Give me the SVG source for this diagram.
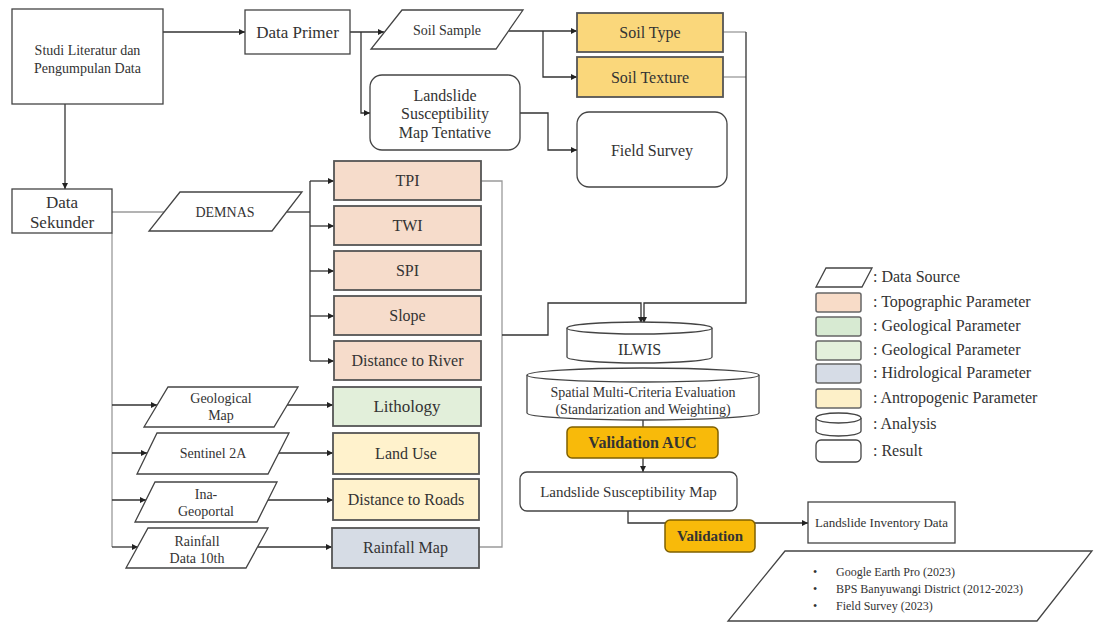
<svg xmlns="http://www.w3.org/2000/svg" width="1094" height="623" viewBox="0 0 1094 623">
<defs>
<marker id="ah" viewBox="0 0 10 10" refX="10" refY="5" markerWidth="6" markerHeight="6" orient="auto" markerUnits="userSpaceOnUse">
<path d="M0,0 L10,5 L0,10 z" fill="#222"/>
</marker>
<style>
text{font-family:"Liberation Serif","Times New Roman",serif;fill:#333;text-anchor:middle}
.box{fill:#fff;stroke:#444;stroke-width:1.3}
.ds{fill:#fff;stroke:#444;stroke-width:1.3}
.topo{fill:#F6DCCB;stroke:#555;stroke-width:1.8}
.geo{fill:#E2EFDA;stroke:#555;stroke-width:1.8}
.antro{fill:#FFF2CC;stroke:#555;stroke-width:1.8}
.hidro{fill:#D6DCE5;stroke:#555;stroke-width:1.8}
.soil{fill:#FAD77B;stroke:#555;stroke-width:1.8}
.val{fill:#F8BA0A;stroke:#7F6000;stroke-width:1.5}
.c{fill:none;stroke:#333;stroke-width:1.3}
.g{fill:none;stroke:#9a9a9a;stroke-width:1.3}
.a{marker-end:url(#ah)}
.t12{font-size:12px}
.t13{font-size:13px}
.t14{font-size:14px}
.t15{font-size:15px}
.t16{font-size:16px}
.t17{font-size:17px}
.lg{font-size:16px;text-anchor:start}
.b{font-weight:bold}
</style>
</defs>
<rect width="1094" height="623" fill="#fff"/>

<g id="connectors">
<path class="c a" d="M163,32 H245"/>
<path class="c a" d="M65,104 V189"/>
<path class="c a" d="M350,32 H384"/>
<path class="c a" d="M361,32 V113 H370"/>
<path class="c a" d="M509,31 H577"/>
<path class="c a" d="M543,31 V77 H577"/>
<path class="c a" d="M520,113 H548 V150 H577"/>
<path class="g" d="M723,32 H746"/>
<path class="g" d="M723,77 H746"/>
<path class="c a" d="M746,32 V303 H644 V323"/>
<path class="g" d="M112,212 H164"/>
<path class="c" d="M287,212 H310"/>
<path class="c" d="M310,181 V361"/>
<path class="c a" d="M310,181 H334"/>
<path class="c a" d="M310,226 H334"/>
<path class="c a" d="M310,271 H334"/>
<path class="c a" d="M310,316 H334"/>
<path class="c a" d="M310,361 H334"/>
<path class="g" d="M481,181 H502 V547 H479"/>
<path class="c a" d="M502,335 H548 V303 H641 V323"/>
<path class="g" d="M112,233 V547"/>
<path class="c a" d="M112,405 H157"/>
<path class="c a" d="M112,453 H147"/>
<path class="c a" d="M112,500 H146"/>
<path class="c a" d="M112,547 H138"/>
<path class="c a" d="M287,405 H333"/>
<path class="c a" d="M279,453 H333"/>
<path class="c a" d="M268,500 H333"/>
<path class="c a" d="M258,547 H332"/>
<path class="c" d="M643,420 V427"/>
<path class="c a" d="M643,458 V472"/>
<path class="c a" d="M628,511 V523 H808"/>
</g>

<g id="studi">
<rect class="box" x="12" y="9" width="151" height="95"/>
<text class="t14" x="87.5" y="55">Studi Literatur dan</text>
<text class="t14" x="87.5" y="73">Pengumpulan Data</text>
</g>
<g id="data-primer">
<rect class="box" x="245" y="10" width="105" height="44"/>
<text class="t17" x="297.5" y="38">Data Primer</text>
</g>
<g id="soil-sample">
<polygon class="ds" points="402,10 523,10 496,49 371,49"/>
<text class="t14" x="447" y="35">Soil Sample</text>
</g>
<g id="soil-type">
<rect class="soil" x="577" y="13" width="146" height="39"/>
<text class="t16" x="650" y="38">Soil Type</text>
</g>
<g id="soil-texture">
<rect class="soil" x="577" y="57" width="146" height="40"/>
<text class="t16" x="650" y="83">Soil Texture</text>
</g>
<g id="lsm-tentative">
<rect class="box" x="370" y="75" width="150" height="75" rx="12"/>
<text class="t16" x="445" y="101">Landslide</text>
<text class="t16" x="445" y="119">Susceptibility</text>
<text class="t16" x="445" y="138">Map Tentative</text>
</g>
<g id="field-survey">
<rect class="box" x="577" y="112" width="150" height="75" rx="12"/>
<text class="t16" x="652" y="156">Field Survey</text>
</g>
<g id="data-sekunder">
<rect class="box" x="12" y="189" width="100" height="44"/>
<text class="t17" x="62" y="208">Data</text>
<text class="t17" x="62" y="228">Sekunder</text>
</g>
<g id="demnas">
<polygon class="ds" points="180,192 302,192 272,231 149,231"/>
<text class="t14" x="225" y="217">DEMNAS</text>
</g>
<g id="tpi">
<rect class="topo" x="334" y="161" width="147" height="39"/>
<text class="t16" x="407.5" y="186">TPI</text>
</g>
<g id="twi">
<rect class="topo" x="334" y="206" width="147" height="39"/>
<text class="t16" x="407.5" y="231">TWI</text>
</g>
<g id="spi">
<rect class="topo" x="334" y="251" width="147" height="39"/>
<text class="t16" x="407.5" y="276">SPI</text>
</g>
<g id="slope">
<rect class="topo" x="334" y="296" width="147" height="39"/>
<text class="t16" x="407.5" y="321">Slope</text>
</g>
<g id="dist-river">
<rect class="topo" x="334" y="341" width="147" height="39"/>
<text class="t16" x="407.5" y="366">Distance to River</text>
</g>
<g id="geological-map">
<polygon class="ds" points="168,387 298,387 274,427 144,427"/>
<text class="t14" x="221" y="403">Geological</text>
<text class="t14" x="221" y="420">Map</text>
</g>
<g id="lithology">
<rect class="geo" x="333" y="387" width="148" height="39"/>
<text class="t17" x="407" y="412">Lithology</text>
</g>
<g id="sentinel">
<polygon class="ds" points="157,433 289,433 268,474 137,474"/>
<text class="t14" x="213" y="458">Sentinel 2A</text>
</g>
<g id="land-use">
<rect class="antro" x="333" y="433" width="146" height="41"/>
<text class="t16" x="406" y="459">Land Use</text>
</g>
<g id="ina-geoportal">
<polygon class="ds" points="155,482 277,482 257,522 135,522"/>
<text class="t14" x="206" y="499">Ina-</text>
<text class="t14" x="206" y="516">Geoportal</text>
</g>
<g id="dist-roads">
<rect class="antro" x="333" y="479" width="146" height="41"/>
<text class="t16" x="406" y="505">Distance to Roads</text>
</g>
<g id="rainfall-data">
<polygon class="ds" points="148,528 268,528 246,568 126,568"/>
<text class="t14" x="197" y="546">Rainfall</text>
<text class="t14" x="197" y="563">Data 10th</text>
</g>
<g id="rainfall-map">
<rect class="hidro" x="332" y="528" width="147" height="40"/>
<text class="t16" x="405.5" y="553">Rainfall Map</text>
</g>
<g id="ilwis">
<path class="box" d="M567,328 V357 A72.5,6 0 0 0 712,357 V328"/>
<ellipse class="box" cx="639.5" cy="328" rx="72.5" ry="6"/>
<text class="t16" x="639.5" y="355">ILWIS</text>
</g>
<g id="smce">
<path class="box" d="M527,375 V413 A116,7 0 0 0 759,413 V375"/>
<ellipse class="box" cx="643" cy="375" rx="116" ry="7"/>
<text class="t14" x="643" y="397">Spatial Multi-Criteria Evaluation</text>
<text class="t14" x="643" y="414">(Standarization and Weighting)</text>
</g>
<g id="validation-auc">
<rect class="val" x="567" y="427" width="151" height="31" rx="5"/>
<text class="t16 b" x="642.5" y="448">Validation AUC</text>
</g>
<g id="lsm">
<rect class="box" x="520" y="472" width="217" height="39" rx="7"/>
<text class="t15" x="628.5" y="497">Landslide Susceptibility Map</text>
</g>
<g id="validation">
<rect class="val" x="665" y="520" width="90" height="32" rx="5"/>
<text class="t15 b" x="710" y="541">Validation</text>
</g>
<g id="inventory">
<rect class="box" x="808" y="502" width="147" height="41"/>
<text class="t13" x="881.5" y="527">Landslide Inventory Data</text>
</g>
<g id="sources">
<polygon class="ds" points="785,551 1092,551 1037,621 728,621"/>
<text class="t12" x="815" y="576">•</text>
<text class="t12" x="815" y="593">•</text>
<text class="t12" x="815" y="610">•</text>
<text class="t12" x="836" y="576" style="text-anchor:start">Google Earth Pro (2023)</text>
<text class="t12" x="836" y="593" style="text-anchor:start">BPS Banyuwangi District (2012-2023)</text>
<text class="t12" x="836" y="610" style="text-anchor:start">Field Survey (2023)</text>
</g>

<g id="legend">
<polygon class="ds" points="826,268 872,268 862,287 816,287"/>
<text class="lg" x="873" y="282">: Data Source</text>
<rect x="816" y="293" width="45" height="19" rx="2" fill="#F8DCC8" stroke="#666" stroke-width="1.5"/>
<text class="lg" x="873" y="307">: Topographic Parameter</text>
<rect x="816" y="317" width="45" height="19" rx="2" fill="#D7EAD2" stroke="#666" stroke-width="1.5"/>
<text class="lg" x="873" y="331">: Geological Parameter</text>
<rect x="816" y="341" width="45" height="19" rx="2" fill="#E3F0DB" stroke="#666" stroke-width="1.5"/>
<text class="lg" x="873" y="355">: Geological Parameter</text>
<rect x="816" y="364" width="45" height="19" rx="2" fill="#D6DCE6" stroke="#666" stroke-width="1.5"/>
<text class="lg" x="873" y="378">: Hidrological Parameter</text>
<rect x="816" y="389" width="45" height="19" rx="2" fill="#FDF0C8" stroke="#666" stroke-width="1.5"/>
<text class="lg" x="873" y="403">: Antropogenic Parameter</text>
<path class="box" d="M816,418 V431 A22.5,5 0 0 0 861,431 V418"/>
<ellipse class="box" cx="838.5" cy="418" rx="22.5" ry="5"/>
<text class="lg" x="873" y="429">: Analysis</text>
<rect class="box" x="816" y="440" width="45" height="22" rx="5"/>
<text class="lg" x="873" y="456">: Result</text>
</g>
</svg>
